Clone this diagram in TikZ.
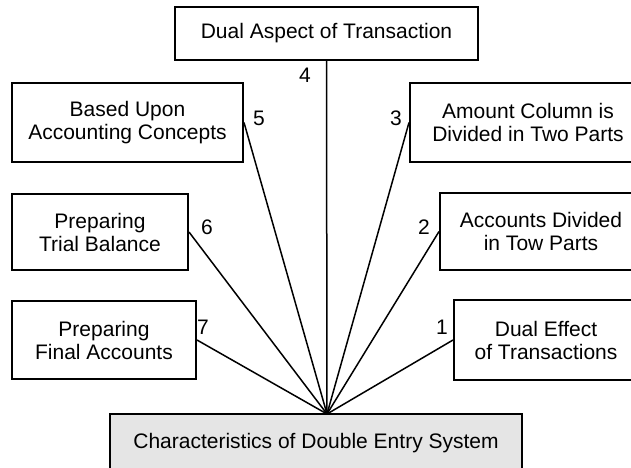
\documentclass[tikz,border=0pt]{standalone}
\usepackage{fontspec}
\setmainfont{Liberation Sans}
\begin{document}
\begin{tikzpicture}[x=1pt,y=-1pt,
  every node/.style={font=\fontsize{21}{23}\selectfont},
  itembox/.style={draw=black, line width=2pt, fill=white, align=center, inner sep=0pt},
  rootbox/.style={itembox, fill=black!10},
  numlabel/.style={inner sep=0pt},
  link/.style={line width=1.5pt, black}]
\useasboundingbox (0,0) rectangle (631,467);
\clip (0,0) rectangle (631,467);

% central box (runs past the lower edge) and the point where all connectors meet
\node[rootbox, minimum width=412pt, minimum height=62pt, text height=15pt, text depth=9pt]
  (root) at (316,445) {Characteristics of Double Entry System};
\coordinate (hub) at (327,414);

% the seven characteristics
\node[itembox, minimum width=303pt, minimum height=53pt] (c4) at (326.5,33.5) {Dual Aspect of Transaction};
\node[itembox, minimum width=231pt, minimum height=79pt] (c5) at (127.5,122.5) {Based Upon\\Accounting Concepts};
\node[itembox, minimum width=236pt, minimum height=79pt] (c3) at (528,122.5) {Amount Column is\\Divided in Two Parts};
\node[itembox, minimum width=176pt, minimum height=76pt] (c6) at (100,232) {Preparing\\Trial Balance};
\node[itembox, minimum width=202pt, minimum height=77pt] (c2) at (541,231.5) {Accounts Divided\\in Tow Parts};
\node[itembox, minimum width=184pt, minimum height=78pt] (c7) at (104,340) {Preparing\\Final Accounts};
\node[itembox, minimum width=184pt, minimum height=80pt] (c1) at (546,340) {Dual Effect\\of Transactions};

% connectors
\draw[link] (c4.south) -- (hub);
\draw[link] (c5.east) -- (hub);
\draw[link] (c3.west) -- (hub);
\draw[link] (c6.east) -- (hub);
\draw[link] (c2.west) -- (hub);
\draw[link] (c7.east) -- (hub);
\draw[link] (c1.west) -- (hub);

% numbering
\node[numlabel] (n4) at (305,75) {4};
\node[numlabel] (n5) at (259,118) {5};
\node[numlabel] (n3) at (396,118) {3};
\node[numlabel] (n6) at (207,227) {6};
\node[numlabel] (n2) at (424,227) {2};
\node[numlabel] (n7) at (203,327) {7};
\node[numlabel] (n1) at (442,327) {1};
\end{tikzpicture}
\end{document}
